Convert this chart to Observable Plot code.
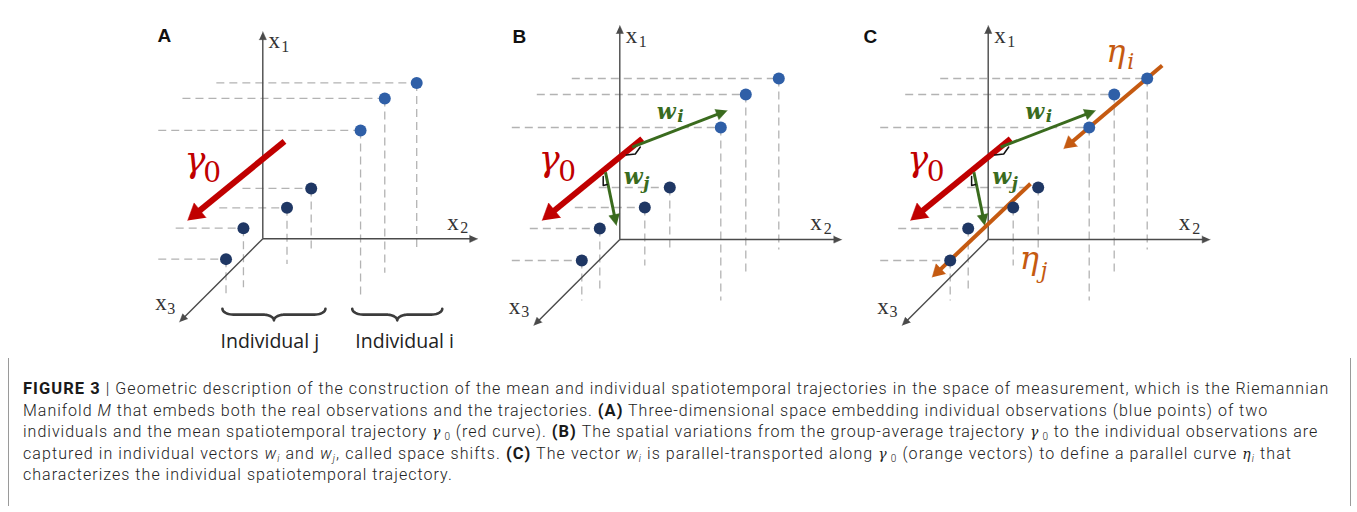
<!DOCTYPE html>
<html><head><meta charset="utf-8">
<script src="https://cdn.jsdelivr.net/npm/d3@7"></script>
<script src="https://cdn.jsdelivr.net/npm/@observablehq/plot@0.6"></script>
<style>
html,body{margin:0;padding:0;background:#fff}
body{width:1357px;height:512px;overflow:hidden;position:relative}
#chart{position:absolute;left:0;top:0}
#cap{position:absolute;left:8px;top:358px;width:1343px;height:148px;border-left:1px solid #9a9a9a;border-right:1px solid #9a9a9a;box-sizing:border-box}
.ln{position:absolute;left:14px;white-space:nowrap;font-family:Roboto,"Liberation Sans",sans-serif;font-weight:300;font-size:16px;line-height:21.7px;color:#222}
.ln b{font-weight:700;color:#1a1a1a;font-size:16.5px}
.ln .s{font-family:"DejaVu Serif",serif;font-style:italic;font-size:14px}
.ln sub{font-size:10px;vertical-align:-3px;line-height:0}
</style></head><body>
<div id="chart"></div>
<div id="cap">
<div class="ln"><b>FIGURE 3</b> | Geometric description of the construction of the mean and individual spatiotemporal trajectories in the space of measurement, which is the Riemannian</div>
<div class="ln">Manifold <i>M</i> that embeds both the real observations and the trajectories. <b>(A)</b> Three-dimensional space embedding individual observations (blue points) of two</div>
<div class="ln">individuals and the mean spatiotemporal trajectory <span class="s">γ</span><sub style="margin-left:3px">0</sub> (red curve). <b>(B)</b> The spatial variations from the group-average trajectory <span class="s">γ</span><sub style="margin-left:3px">0</sub> to the individual observations are</div>
<div class="ln">captured in individual vectors <i>w<sub>i</sub></i> and <i>w<sub>j</sub></i>, called space shifts. <b>(C)</b> The vector <i>w<sub>i</sub></i> is parallel-transported along <span class="s">γ</span><sub style="margin-left:3px">0</sub> (orange vectors) to define a parallel curve <span class="s">η</span><sub><i>i</i></sub> that</div>
<div class="ln">characterizes the individual spatiotemporal trajectory.</div>
</div>
<script>
// ---------------- data ----------------
const panels = ["A", "B", "C"];
const panelOriginX = [262.3, 619.3, 987.7];
const panelOriginY = [238.3, 239, 239];
const panelScale = [0.968, 1, 1];
const panelLetterX = [-108.8, -107.3, -124.7];
const panelLetterY = [-202.8, -197, -197];

// axes x1 (up), x2 (right), x3 (depth)
const axisNames = ["x1", "x2", "x3"];
const axisEndX = [0, 222, -86];
const axisEndY = [-214, 0, 86];

// observations (individual i: 3 visits, individual j: 4 visits)
const obsIndividual = ["i", "i", "i", "j", "j", "j", "j"];
const obsX = [159, 126, 101, 50, 25, -20, -38];
const obsY = [-161, -145, -112, -52, -32, -11, 21];
const obsGuideLeft = [-48, -83, -108, -21, -45, -90, -108];
const obsGuideBottom = [10, 35, 61, 10, 26, 50, 61];

// vectors
const vecNames = ["γ0", "wi", "wj", "ηi", "ηj"];
const vecKind = ["gamma", "shift", "shift", "parallel", "parallel"];
const vecPanels = [["A", "B", "C"], ["B", "C"], ["B", "C"], ["C"], ["C"]];
const vecFromX = [22.4, 12.4, -14.3, 174, 42.3];
const vecFromY = [-100.7, -92.3, -67.3, -174, -55.7];
const vecToX = [-77.6, 107.4, -3.3, 75.6, -56];
const vecToY = [-19, -129, -14, -90.7, 37.7];

// right-angle marks between γ0 and the space shifts
const rightAngleNames = ["wi", "wj"];
const rightAngleX = [[6.5, 15.5, 20.5], [-16.6, -16.6, -12.6]];
const rightAngleY = [[-84.5, -85.5, -92.5], [-63, -54, -55]];

// labels
const labelText  = ["x", "1", "x", "2", "x", "3", "γ", "0", "w", "i", "w", "j", "η", "i", "η", "j"];
const labelKind  = ["axis", "axisSub", "axis", "axisSub", "axis", "axisSub", "gamma", "gammaSub", "w", "wSub", "w", "wSub", "eta", "etaSub", "eta", "etaSub"];
const labelX     = [6, 19, 190.5, 204, -111, -98.6, -81, -61.5, 37, 57.5, 4, 23.5, 118, 139, 31.5, 52.3];
const labelY     = [-197, -193, -9.3, -5.8, 74, 77.7, -69, -59, -120.7, -117.3, -55.7, -51, -177.5, -170.7, 29.2, 38];
const labelPanels = [["A","B","C"], ["A","B","C"], ["A","B","C"], ["A","B","C"], ["A","B","C"], ["A","B","C"],
  ["A","B","C"], ["A","B","C"], ["B","C"], ["B","C"], ["B","C"], ["B","C"], ["C"], ["C"], ["C"], ["C"]];

// individuals (panel A)
const individualNames = ["Individual j", "Individual i"];
const individualFrom = [-41.7, 92.4];
const individualTo = [64.7, 185.4];
const individualTextX = [-43.7, 95.6];
const braceTopY = 72.3, braceHeight = 12, individualTextY = 112.3;

// ---------------- styles ----------------
const arrowStyle = {
  axis: {color: "#4a4a4a", width: 1.4, head: 8, half: 3.6},
  gamma: {color: "#c00000", width: 6, head: 16, half: 9.5},
  shift: {color: "#3a6b1e", width: 3, head: 11, half: 5.5},
  parallel: {color: "#c55a11", width: 4, head: 12, half: 7}
};
const textStyle = {
  axis: {fontFamily: "Liberation Serif", fontSize: 23, fill: "#333"},
  axisSub: {fontFamily: "Liberation Serif", fontSize: 16, fill: "#333"},
  gamma: {fontFamily: "DejaVu Serif", fontSize: 35, fill: "#c00000", fontStyle: "italic"},
  gammaSub: {fontFamily: "DejaVu Serif", fontSize: 28, fill: "#c00000"},
  w: {fontFamily: "DejaVu Serif", fontSize: 22, fill: "#3a6b1e", fontStyle: "italic", fontWeight: "bold"},
  wSub: {fontFamily: "DejaVu Serif", fontSize: 17, fill: "#3a6b1e", fontStyle: "italic", fontWeight: "bold"},
  eta: {fontFamily: "DejaVu Serif", fontSize: 32, fill: "#c55a11", fontStyle: "italic"},
  etaSub: {fontFamily: "DejaVu Serif", fontSize: 22, fill: "#c55a11", fontStyle: "italic"}
};
const pointColor = {i: "#2f5fa7", j: "#1f3764"};

// ---------------- build tables ----------------
function G(p, lx, ly) {
  const k = panels.indexOf(p);
  return [panelOriginX[k] + panelScale[k] * lx, panelOriginY[k] + panelScale[k] * ly];
}
const guides = [], dots = [], shafts = [], heads = [], texts = [], corners = [], braces = [], letters = [];

function addArrow(p, fx, fy, tx, ty, kind, id) {
  const st = arrowStyle[kind];
  const [x1, y1] = G(p, fx, fy), [x2, y2] = G(p, tx, ty);
  const L = Math.hypot(x2 - x1, y2 - y1), ux = (x2 - x1) / L, uy = (y2 - y1) / L;
  const bx = x2 - ux * st.head, by = y2 - uy * st.head;
  shafts.push({kind, x1, y1, x2: bx + ux, y2: by + uy});
  heads.push({kind, id: id + "-tip", x: x2, y: y2});
  heads.push({kind, id: id + "-tip", x: bx - uy * st.half, y: by + ux * st.half});
  heads.push({kind, id: id + "-tip", x: bx + uy * st.half, y: by - ux * st.half});
}

panels.forEach((p, k) => {
  obsX.forEach((_, i) => {
    const [px, py] = G(p, obsX[i], obsY[i]);
    const [hx] = G(p, obsGuideLeft[i], 0);
    const [, vy] = G(p, 0, obsGuideBottom[i]);
    guides.push({x1: hx, y1: py, x2: px, y2: py});
    guides.push({x1: px, y1: py, x2: px, y2: vy});
    dots.push({p, ind: obsIndividual[i], x: px, y: py});
  });
  axisNames.forEach((a, i) => addArrow(p, 0, 0, axisEndX[i], axisEndY[i], "axis", p + a));
  vecNames.forEach((v, i) => {
    if (vecPanels[i].includes(p)) addArrow(p, vecFromX[i], vecFromY[i], vecToX[i], vecToY[i], vecKind[i], p + v);
  });
  if (p !== "A") rightAngleNames.forEach((r, i) => rightAngleX[i].forEach((lx, j) => {
    const [x, y] = G(p, lx, rightAngleY[i][j]);
    corners.push({id: p + r, x, y});
  }));
  labelText.forEach((t, i) => {
    if (labelPanels[i].includes(p)) {
      const [x, y] = G(p, labelX[i], labelY[i]);
      texts.push({kind: labelKind[i], text: t, x, y});
    }
  });
  const [lx, ly] = G(p, panelLetterX[k], panelLetterY[k]);
  letters.push({text: p, x: lx, y: ly});
});

function bracePoints(x0, x1, y0, h) {
  const xm = (x0 + x1) / 2, ym = y0 + h * 0.5, r = 11, pts = [];
  const arc = (cx, cy, rx, ry, a0, a1) => { for (let s = 0; s <= 10; s++) { const a = a0 + (a1 - a0) * s / 10; pts.push([cx + rx * Math.cos(a), cy + ry * Math.sin(a)]); } };
  arc(x0 + r, y0, r, ym - y0, Math.PI, Math.PI / 2);
  arc(xm - r, y0 + h, r, y0 + h - ym, -Math.PI / 2, 0);
  arc(xm + r, y0 + h, r, y0 + h - ym, Math.PI, 1.5 * Math.PI);
  arc(x1 - r, y0, r, ym - y0, Math.PI / 2, 0);
  return pts;
}
const individualLabels = [];
individualNames.forEach((n, i) => {
  const [x0, y0] = G("A", individualFrom[i], braceTopY);
  const [x1] = G("A", individualTo[i], braceTopY);
  bracePoints(x0, x1, y0, braceHeight * panelScale[0]).forEach(([x, y]) => braces.push({id: n, x, y}));
  const [tx, ty] = G("A", individualTextX[i], individualTextY);
  individualLabels.push({text: n, x: tx, y: ty});
});

// ---------------- plot ----------------
const W = 1357, H = 358;
const marks = [
  Plot.link(guides, {x1: "x1", y1: "y1", x2: "x2", y2: "y2", stroke: "#b3b3b3", strokeWidth: 1.3, strokeDasharray: "8,5"})
];
for (const kind of ["axis", "gamma", "shift", "parallel"]) {
  const st = arrowStyle[kind];
  marks.push(Plot.link(shafts.filter(d => d.kind === kind), {x1: "x1", y1: "y1", x2: "x2", y2: "y2", stroke: st.color, strokeWidth: st.width, strokeLinecap: "butt"}));
  marks.push(Plot.line(heads.filter(d => d.kind === kind), {x: "x", y: "y", z: "id", fill: st.color, stroke: st.color, strokeWidth: 0.5, strokeLinejoin: "miter"}));
}
marks.push(
  Plot.dot(dots, {x: "x", y: "y", r: 6, fill: d => pointColor[d.ind], stroke: "none"}),
  Plot.line(corners, {x: "x", y: "y", z: "id", stroke: "#111", strokeWidth: 1.5, fill: "none"}),
  Plot.line(braces, {x: "x", y: "y", z: "id", stroke: "#3c3c3c", strokeWidth: 2.6, fill: "none", strokeLinecap: "round"})
);
for (const kind of Object.keys(textStyle)) {
  const st = textStyle[kind];
  marks.push(Plot.text(texts.filter(d => d.kind === kind), {
    x: "x", y: "y", text: "text", textAnchor: "start", lineAnchor: "bottom",
    fill: st.fill, fontSize: st.fontSize, fontFamily: st.fontFamily,
    fontStyle: st.fontStyle || "normal", fontWeight: st.fontWeight || "normal"
  }));
}
marks.push(
  Plot.text(letters, {x: "x", y: "y", text: "text", textAnchor: "start", lineAnchor: "bottom", fontSize: 19, fontWeight: "bold", fontFamily: "Liberation Sans", fill: "#111"}),
  Plot.text(individualLabels, {x: "x", y: "y", text: "text", textAnchor: "start", lineAnchor: "bottom", fontSize: 19.5, fontFamily: "Open Sans", fill: "#222"})
);

const chart = Plot.plot({
  width: W, height: H, margin: 0,
  x: {domain: [0, W], range: [0, W], axis: null},
  y: {domain: [0, H], range: [0, H], axis: null},
  style: {background: "white", overflow: "visible"},
  marks
});
document.getElementById("chart").append(chart);

// ---------------- caption fitting ----------------
const lineBaselines = [396, 417.5, 439, 460.5, 482];
const lineEnds = [1329.3, 1268.3, 1318.3, 1291.7, null];
const capLeft = 8 + 1 + 14;
const lines = [...document.querySelectorAll("#cap .ln")];
const spacings = [];
lines.forEach((el, i) => {
  el.style.top = (lineBaselines[i] - 358 - 1 - 16.6) + "px";
  if (lineEnds[i] != null) {
    const w = el.getBoundingClientRect().width;
    const n = el.textContent.length;
    const ls = (lineEnds[i] - capLeft - w) / n;
    spacings.push(ls);
    el.style.letterSpacing = ls + "px";
  }
});
lines[4].style.letterSpacing = d3.mean(spacings) + "px";
</script>
</body></html>
